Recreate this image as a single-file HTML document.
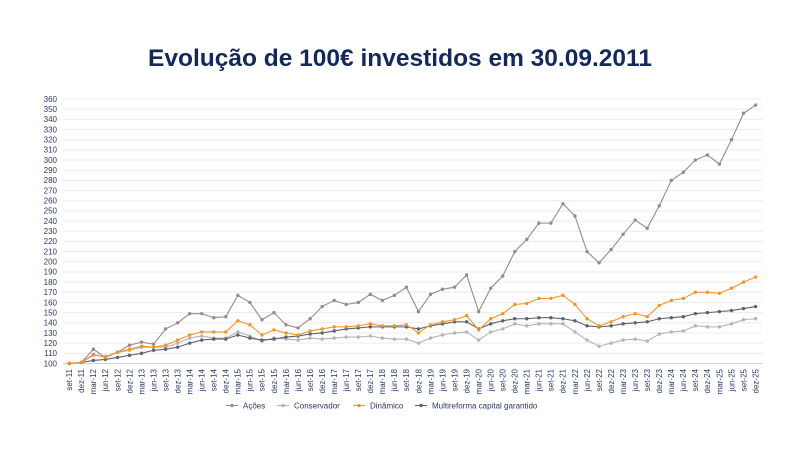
<!DOCTYPE html>
<html><head><meta charset="utf-8"><style>
html,body{margin:0;padding:0;background:#fff;width:800px;height:450px;overflow:hidden}
svg text{font-family:"Liberation Sans",sans-serif}
</style></head><body>
<svg id="c" width="800" height="450" xmlns="http://www.w3.org/2000/svg">
<text x="400" y="66" text-anchor="middle" font-size="24.5" font-weight="bold" fill="#14285a">Evolução de 100€ investidos em 30.09.2011</text>
</svg>
<script>
const s=document.getElementById('c');const NS='http://www.w3.org/2000/svg';
function el(t,a,txt){const e=document.createElementNS(NS,t);for(const k in a)e.setAttribute(k,a[k]);if(txt!=null)e.textContent=txt;s.appendChild(e);return e;}
const y0=363.5,py=1.0173,x0=69.3,dx=12.04;
const Y=v=>y0-(v-100)*py,X=i=>x0+i*dx;
for(let v=100;v<=360;v+=10){el('line',{x1:63,x2:762,y1:Y(v),y2:Y(v),stroke:v==100?'#d0d0d0':'#ececec','stroke-width':1});
el('text',{x:57,y:Y(v)+2.8,'text-anchor':'end','font-size':8,fill:'#2a3a66'},v);}
const m=['mar','jun','set','dez'];const labels=[];
for(let i=0;i<58;i++){const q=(i+2)%4;const yr=11+Math.floor((i+2)/4);labels.push(m[q]+'-'+yr);}
labels.forEach((l,i)=>{const x=X(i)+2.8,y=369;el('text',{x:x,y:y,'text-anchor':'end','font-size':8,fill:'#2a3a66',transform:`rotate(-90 ${x} ${y})`},l);});
const D={
a:[100,101,114,106,111,118,121,119,134,140,149,149,145,146,167,160,143,150,138,135,144,156,162,158,160,168,162,167,175,151,168,173,175,187,151,174,186,210,222,238,238,257,245,210,199,212,227,241,233,255,280,288,300,305,296,320,346,354],
c:[100,101,108,107,111,113,116,116,116,120,125,127,125,125,131,127,122,125,124,123,125,124,125,126,126,127,125,124,124,120,125,128,130,131,123,131,134,139,137,139,139,139,131,123,117,120,123,124,122,129,131,132,137,136,136,139,143,144],
d:[100,101,109,106,111,114,117,116,118,123,128,131,131,131,142,138,128,133,130,128,132,134,136,136,137,139,137,137,138,130,138,141,143,147,133,144,149,158,159,164,164,167,158,144,137,141,146,149,146,157,162,164,170,170,169,174,180,185],
m:[100,101,103,104,106,108,110,113,114,116,120,123,124,124,128,125,123,124,126,127,129,130,132,134,135,136,136,136,136,134,137,139,141,141,134,139,142,144,144,145,145,144,142,137,136,137,139,140,141,144,145,146,149,150,151,152,154,156]};
const C={a:'#9a8a85',c:'#b4b4b8',d:'#f2962a',m:'#5c6272'};
['c','a','m','d'].forEach(k=>{el('polyline',{points:D[k].map((v,i)=>X(i)+','+Y(v)).join(' '),fill:'none',stroke:C[k],'stroke-width':1.1});
D[k].forEach((v,i)=>el('circle',{cx:X(i),cy:Y(v),r:1.7,fill:C[k]}));});
const L=[['a','Ações',243],['c','Conservador',294],['d','Dinâmico',370],['m','Multireforma capital garantido',432]];
L.forEach(([k,t,x])=>{el('line',{x1:x-17,x2:x-5,y1:405.5,y2:405.5,stroke:C[k],'stroke-width':1.1});el('circle',{cx:x-11,cy:405.5,r:1.7,fill:C[k]});
el('text',{x:x,y:408.5,'font-size':8,fill:'#2a3a66'},t);});
</script>
</body></html>
